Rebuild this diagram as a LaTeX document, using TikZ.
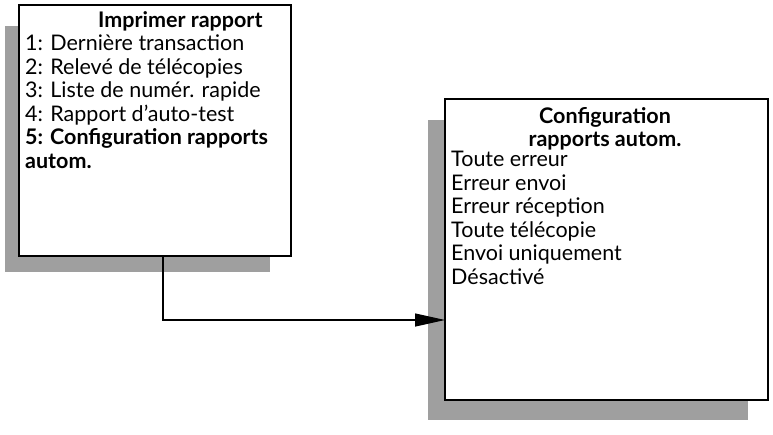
\documentclass[tikz,border=0pt]{standalone}
\usepackage{fontspec}
\setmainfont{Lato}
\usetikzlibrary{arrows.meta, positioning}
\tikzset{
  menubox/.style={draw, line width=1.6pt, fill=white},
  shadowbox/.style={fill=gray!75},
  menutext/.style={align=left, anchor=north west, inner sep=0pt, font=\fontsize{21.5}{23.5}\selectfont},
  link/.style={line width=1.2pt, -{Triangle[length=30pt, width=13pt]}}
}
\begin{document}
\begin{tikzpicture}[x=1pt, y=-1pt]
  \useasboundingbox (0,0) rectangle (773,434);
  % left menu
  \fill[shadowbox] (5,26) rectangle (270,272);
  \draw[menubox] (19,5) rectangle (291,256);
  \node[menutext] (rapport) at (25,11) {\hspace*{73pt}\textbf{Imprimer rapport}\\
    1: Dernière transaction\\
    2: Relevé de télécopies\\
    3: Liste de numér. rapide\\
    4: Rapport d'auto-test\\
    \textbf{5: Configuration rapports}\\
    \textbf{autom.}};
  % right menu
  \fill[shadowbox] (428,120) rectangle (748,420);
  \draw[menubox] (445,99) rectangle (768,400);
  \node[menutext, align=center, anchor=north] (config) at (605,107) {\textbf{Configuration}\\ \textbf{rapports autom.}};
  \node[menutext] (options) at (451,151) {Toute erreur\\
    Erreur envoi\\
    Erreur réception\\
    Toute télécopie\\
    Envoi uniquement\\
    Désactivé};
  \coordinate (bend) at (163,320);
  \coordinate (entry) at (445,320);
  \draw[link] (163,256) -- (bend) -- (entry);
\end{tikzpicture}
\end{document}
